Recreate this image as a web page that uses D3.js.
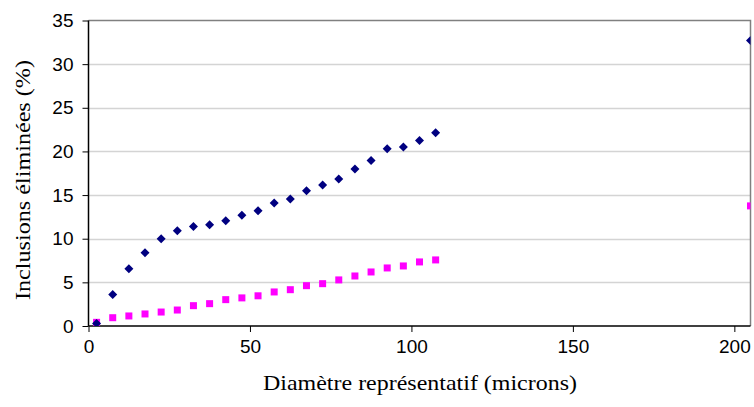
<!DOCTYPE html>
<html><head><meta charset="utf-8">
<script src="https://cdn.jsdelivr.net/npm/d3@7"></script>
<style>body{margin:0;background:#fff}svg{display:block}</style>
</head><body>
<svg id="c" width="754" height="407"></svg>
<script>
const diam = [2.5,7.5,12.5,17.5,22.5,27.5,32.5,37.5,42.5,47.5,52.5,57.5,62.5,67.5,72.5,77.5,82.5,87.5,92.5,97.5,102.5,107.5,205];
const seriesA = [0.3,3.6,6.55,8.4,10.0,10.9,11.4,11.6,12.05,12.7,13.2,14.1,14.55,15.5,16.15,16.85,18.0,18.95,20.3,20.5,21.25,22.15,32.7];
const seriesB = [0.42,0.95,1.15,1.38,1.6,1.83,2.33,2.56,3.02,3.22,3.46,3.9,4.16,4.62,4.85,5.28,5.73,6.19,6.65,6.88,7.34,7.57,13.76];
const xTicks = [0,50,100,150,200];
const yTicks = [0,5,10,15,20,25,30,35];
const xTitle = "Diamètre représentatif (microns)";
const yTitle = "Inclusions éliminées (%)";

const L=88.5, R=750.5, T=20.5, B=326;
const svg = d3.select("#c");
const x = d3.scaleLinear().domain([0,205]).range([L,R]);
const y = d3.scaleLinear().domain([0,35]).range([B,T]);

svg.append("defs").append("clipPath").attr("id","clip").append("rect")
  .attr("x",L).attr("y",T).attr("width",R-L).attr("height",B-T);

svg.append("g").selectAll("line").data(yTicks.filter(d=>d>0&&d<35)).join("line")
  .attr("x1",L).attr("x2",R).attr("y1",d=>Math.round(y(d))+0.5).attr("y2",d=>Math.round(y(d))+0.5)
  .attr("stroke","#d4d4d4").attr("stroke-width",1.5);

svg.append("path").attr("d",`M${L},${T}H${R}V${B}`).attr("fill","none").attr("stroke","#808080").attr("stroke-width",1.5);

const font = "'Liberation Sans', Arial, sans-serif";
const xAxis = d3.axisBottom(x).tickValues(xTicks).tickSize(6).tickPadding(8);
const gx = svg.append("g").attr("transform",`translate(0,${B})`).call(xAxis);
const yAxis = d3.axisLeft(y).tickValues(yTicks).tickSize(6).tickPadding(9);
const gy = svg.append("g").attr("transform",`translate(${L},0)`).call(yAxis);
[gx,gy].forEach(g=>{
  g.select(".domain").attr("stroke","#000").attr("stroke-width",1.5);
  g.selectAll(".tick line").attr("stroke","#000");
  g.selectAll("text").attr("font-family",font).attr("font-size",19).attr("fill","#000");
});
gy.select(".domain").attr("d",`M0,${B}V${T}`);
gx.select(".domain").attr("d",`M${L},0H${R}`);

const plot = svg.append("g").attr("clip-path","url(#clip)");
plot.selectAll(".sq").data(diam.map((d,i)=>[d,seriesB[i]])).join("rect")
  .attr("x",d=>x(d[0])-3.5).attr("y",d=>y(d[1])-3.5).attr("width",7).attr("height",7).attr("fill","#ff00ff");
plot.selectAll(".dm").data(diam.map((d,i)=>[d,seriesA[i]])).join("path")
  .attr("d",d=>`M${x(d[0])},${y(d[1])-4.5}l4.5,4.5l-4.5,4.5l-4.5,-4.5z`).attr("fill","#000080");

const serif = "'Liberation Serif', 'Times New Roman', serif";
svg.append("text").attr("x",420).attr("y",390).attr("text-anchor","middle")
  .attr("font-family",serif).attr("font-size",22)
  .attr("textLength",314).attr("lengthAdjust","spacingAndGlyphs").text(xTitle);
svg.append("text").attr("transform","translate(30,180) rotate(-90)").attr("text-anchor","middle")
  .attr("font-family",serif).attr("font-size",22)
  .attr("textLength",240).attr("lengthAdjust","spacingAndGlyphs").text(yTitle);
</script>
</body></html>
